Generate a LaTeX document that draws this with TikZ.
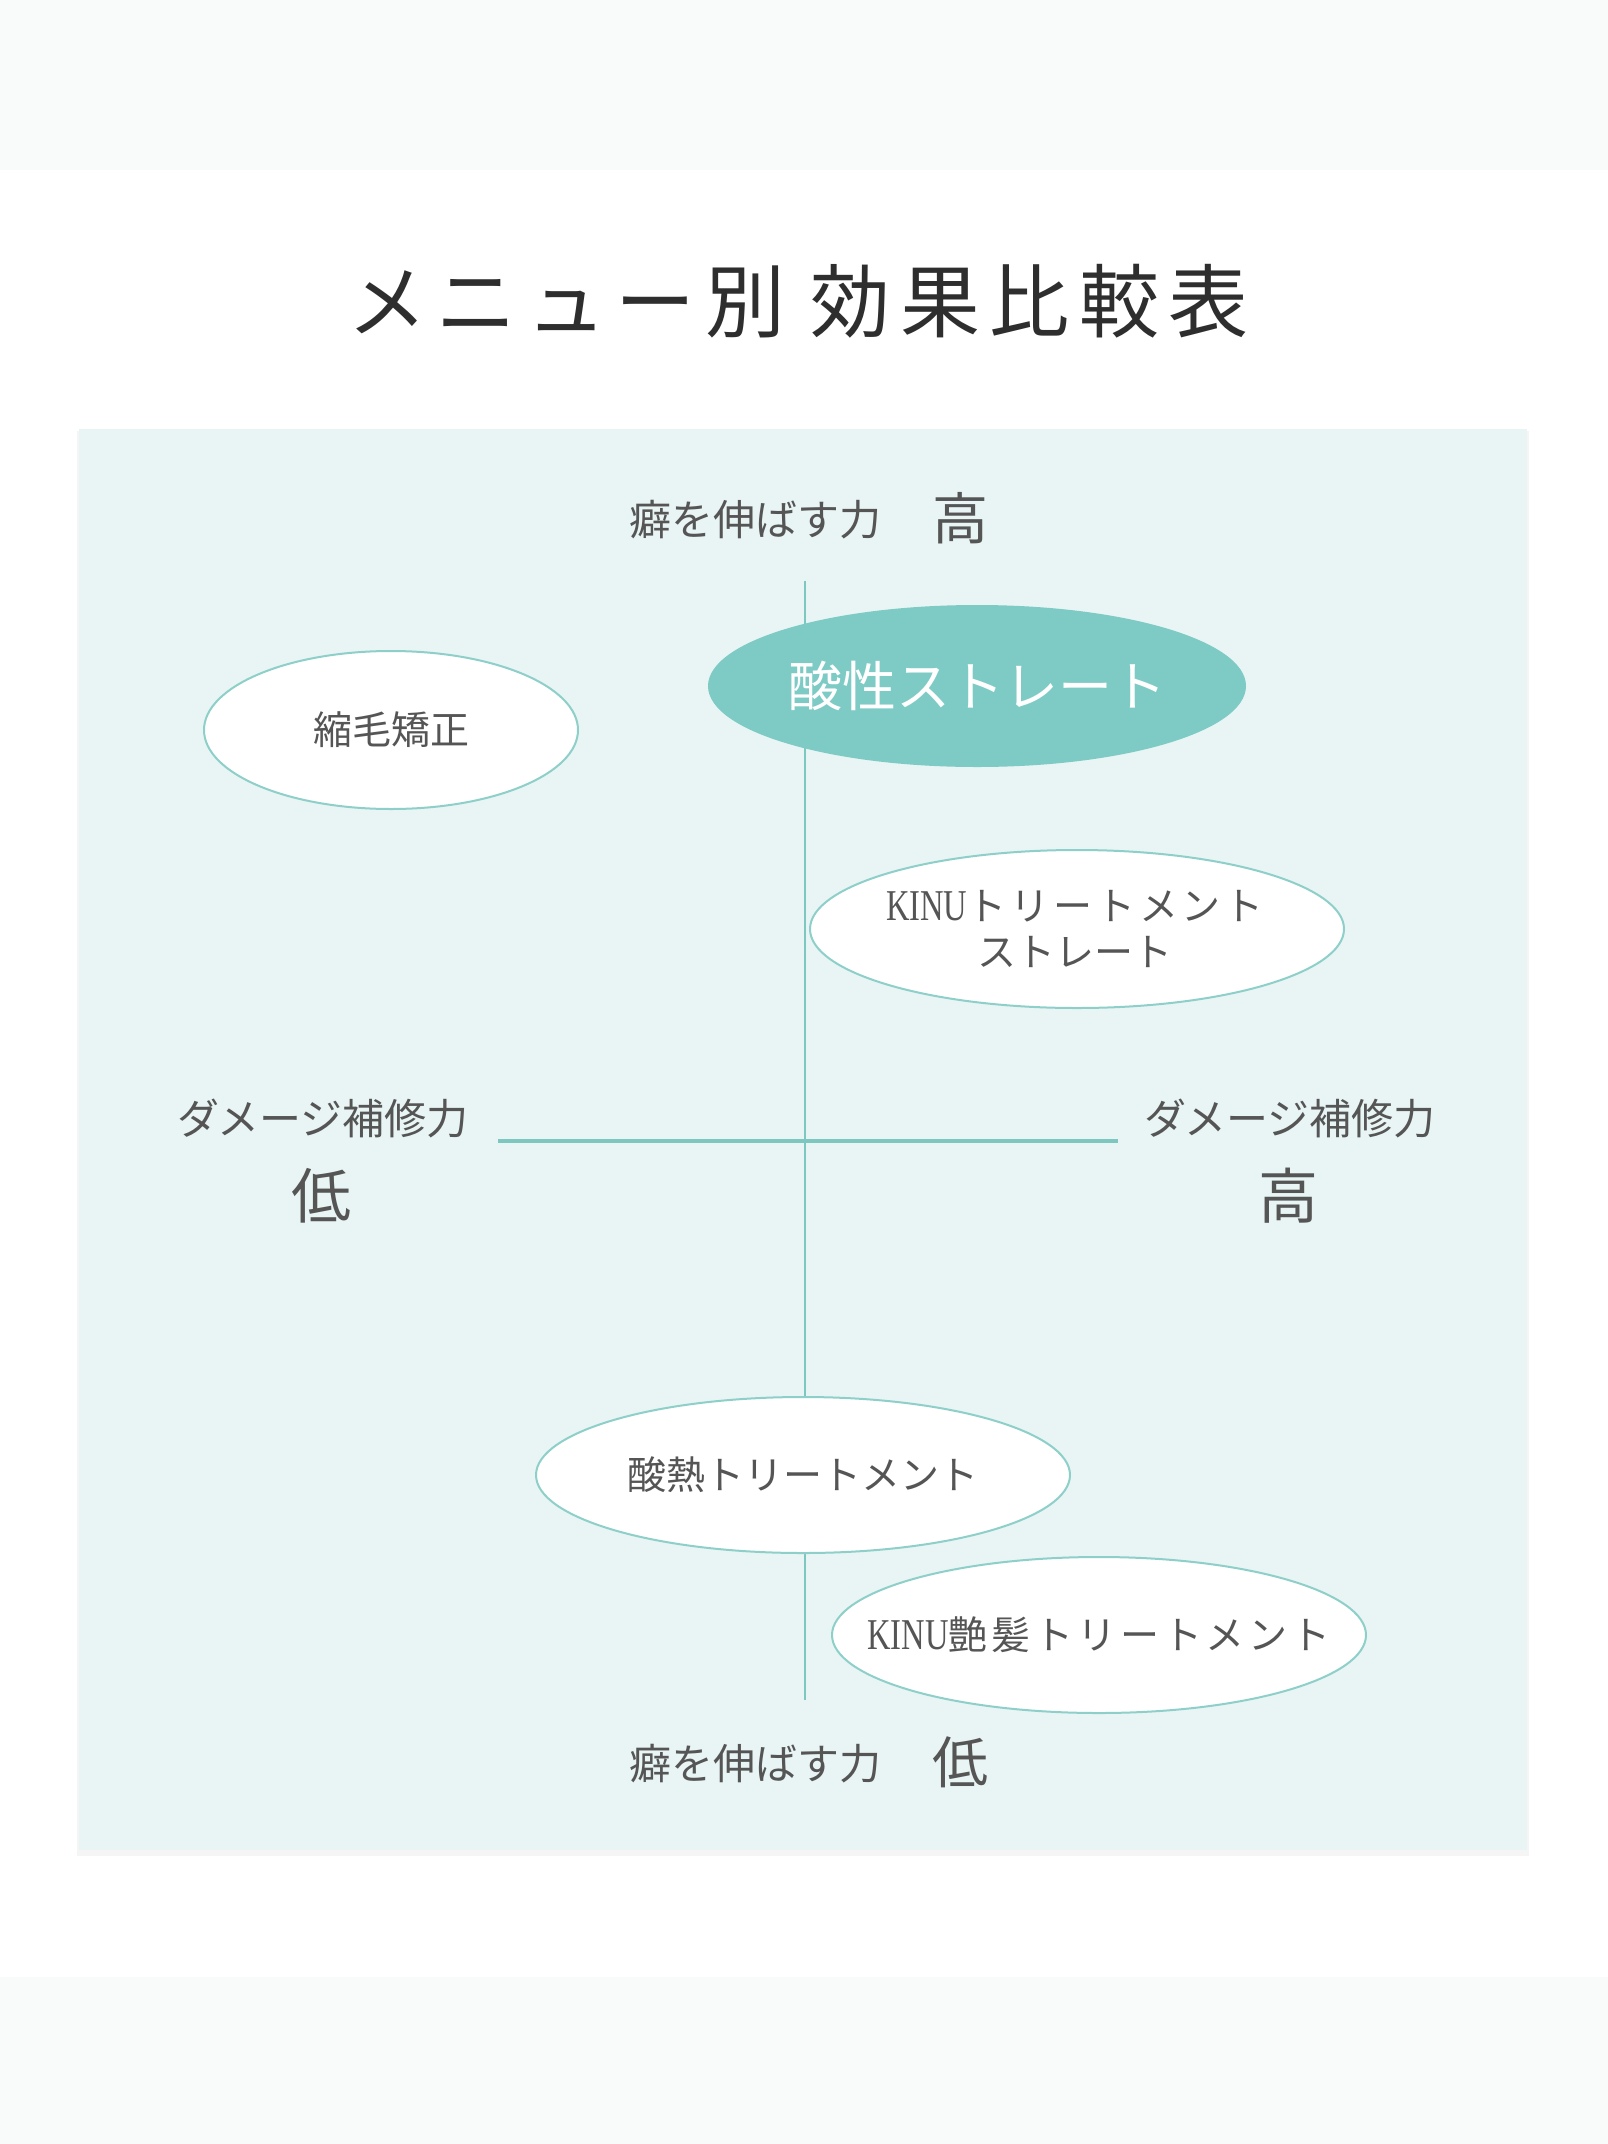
\documentclass[tikz,border=0pt]{standalone}
\usepackage{fontspec}
\usepackage{graphicx}
\usetikzlibrary{shapes.geometric}
\newfontfamily\jp{Noto Sans CJK JP}
\newfontfamily\jpt[LetterSpace=12]{Noto Sans CJK JP}
\newfontfamily\jpk[LetterSpace=10]{Noto Sans CJK JP}
\newfontfamily\lat{Liberation Serif}
\definecolor{panelcol}{HTML}{E8F5F4}
\definecolor{axiscol}{HTML}{7CC8C1}
\definecolor{edgecol}{HTML}{8ED0C9}
\definecolor{filcol}{HTML}{7ECBC6}
\definecolor{txtcol}{HTML}{555555}
\definecolor{titlecol}{HTML}{2E2E2E}
\definecolor{bandcol}{HTML}{F9FAFA}
\newcommand{\kinu}{\scalebox{0.74}[1]{\lat\fontsize{44}{44}\selectfont KINU}}
\tikzset{
  lbl/.style={font=\jp\fontsize{42}{50}\selectfont, text=txtcol, inner sep=0pt},
  bigl/.style={font=\jp\fontsize{60}{70}\selectfont, text=txtcol, inner sep=0pt},
  bubble/.style={ellipse, draw=edgecol, line width=2pt, fill=white, inner sep=0pt},
  btext/.style={font=\jp\fontsize{39}{46}\selectfont, text=txtcol, inner sep=0pt, align=center},
  axisline/.style={draw=axiscol, line cap=butt},
}
\begin{document}
\begin{tikzpicture}[x=1pt,y=-1pt]
\useasboundingbox (0,0) rectangle (1608,2144);
% background bands
\fill[bandcol] (0,0) rectangle (1608,170);
\fill[white] (0,170) rectangle (1608,1977);
\fill[bandcol] (0,1977) rectangle (1608,2144);
% panel
\fill[black!4] (77,431) rectangle (1529,1856);
\fill[panelcol] (79,429) rectangle (1527,1850);
% title
\node[font=\jpt\fontsize{80}{90}\selectfont, text=titlecol, inner sep=0pt] (title) at (798,301) {メニュー別\hspace{25pt}効果比較表};
% axes
\coordinate (vtop) at (805,581);
\coordinate (vbot) at (805,1700);
\coordinate (hl) at (498,1141);
\coordinate (hr) at (1118,1141);
\draw[axisline, line width=2.5pt] (vtop) -- (vbot);
\draw[axisline, line width=4pt] (hl) -- (hr);
% axis labels
\node[lbl] (toplbl) at (755,520) {癖を伸ばす力};
\node[font=\jp\fontsize{56}{64}\selectfont, text=txtcol, inner sep=0pt] (tophigh) at (960,518) {高};
\node[lbl] (botlbl) at (755,1764) {癖を伸ばす力};
\node[font=\jp\fontsize{56}{64}\selectfont, text=txtcol, inner sep=0pt] (botlow) at (960,1762) {低};
\node[lbl] (leftlbl) at (323,1118) {ダメージ補修力};
\node[bigl] (leftlow) at (321,1196) {低};
\node[lbl] (rightlbl) at (1290,1118) {ダメージ補修力};
\node[bigl] (righthigh) at (1288,1196) {高};
% bubbles
\node[bubble, minimum width=374pt, minimum height=158pt] (shuku) at (391,730) {};
\node[btext] (shukutxt) at (shuku.center) {縮毛矯正};
\node[bubble, draw=filcol, fill=filcol, minimum width=536pt, minimum height=160pt] (sansei) at (977,686) {};
\node[btext, text=white, font=\jp\fontsize{54}{60}\selectfont] (sanseitxt) at (sansei.center) {酸性ストレート};
\node[bubble, minimum width=534pt, minimum height=158pt] (kinust) at (1077,929) {};
\node[btext, font=\jpk\fontsize{39}{46}\selectfont] (kinusttxt) at (1075,929) {\kinu トリートメント\\{\jp ストレート}};
\node[bubble, minimum width=534pt, minimum height=156pt] (sannetsu) at (803,1475) {};
\node[btext] (sannetsutxt) at (sannetsu.center) {酸熱トリートメント};
\node[bubble, minimum width=534pt, minimum height=156pt] (kinutsuya) at (1099,1635) {};
\node[btext, font=\jpk\fontsize{39}{46}\selectfont] (kinutsuyatxt) at (1099,1635) {\kinu 艶髪トリートメント};
\end{tikzpicture}
\end{document}
